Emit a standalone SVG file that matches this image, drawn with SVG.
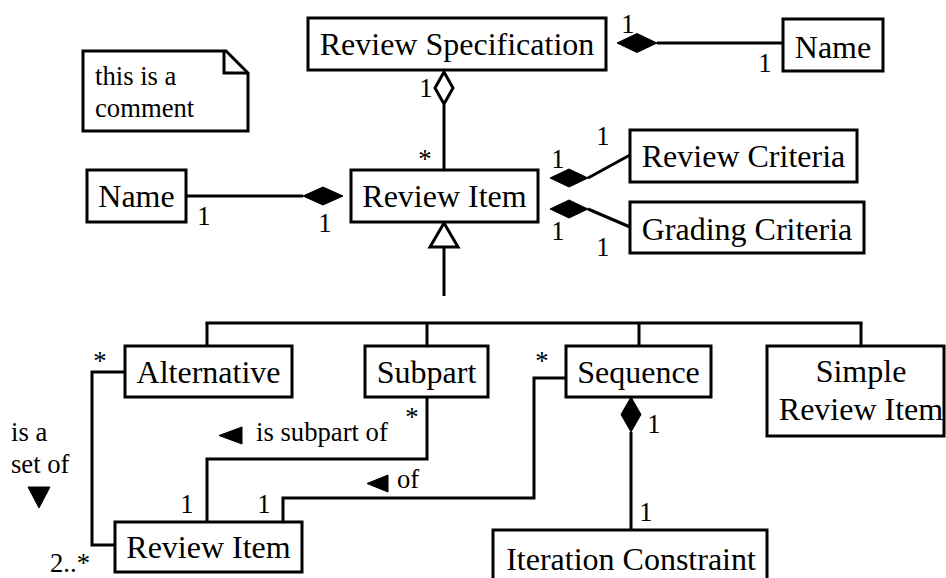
<svg xmlns="http://www.w3.org/2000/svg" width="946" height="578" viewBox="0 0 946 578">
  <style>
    .box { fill: #fff; stroke: #000; stroke-width: 3; }
    .ln { fill: none; stroke: #000; stroke-width: 3; }
    .solid { fill: #000; stroke: #000; stroke-width: 1; }
    .hollow { fill: #fff; stroke: #000; stroke-width: 3; }
    text { font-family: 'Liberation Serif', 'DejaVu Serif', serif; fill: #000; }
    .lbl { font-size: 32px; text-anchor: middle; }
    .sm { font-size: 26.67px; }
    .mid { text-anchor: middle; }
  </style>

  <rect width="946" height="578" fill="#fff"/>

  <!-- connectors -->
  <g id="connectors">
    <!-- Review Specification composed of Name -->
    <line class="ln" x1="657" y1="43" x2="783" y2="43"/>
    <polygon class="solid" points="617,43 637,33.5 657,43 637,52.5"/>
    <text class="sm mid" x="628" y="33">1</text>
    <text class="sm mid" x="765" y="72">1</text>

    <!-- Review Specification aggregates Review Items -->
    <line class="ln" x1="444" y1="105" x2="444" y2="170"/>
    <polygon class="hollow" points="444,72 453,88 444,104 435,88"/>
    <text class="sm mid" x="426" y="97">1</text>
    <text class="sm mid" x="425" y="168">*</text>

    <!-- Review Item composed of Name -->
    <line class="ln" x1="186" y1="196" x2="303" y2="196"/>
    <polygon class="solid" points="303,196 323,187 343,196 323,205"/>
    <text class="sm mid" x="204" y="225">1</text>
    <text class="sm mid" x="325" y="232">1</text>

    <!-- Review Item composed of Review Criteria -->
    <line class="ln" x1="588" y1="178" x2="630" y2="155"/>
    <polygon class="solid" points="550,178 569,169 588,178 569,187"/>
    <text class="sm mid" x="558" y="168">1</text>
    <text class="sm mid" x="603" y="145">1</text>

    <!-- Review Item composed of Grading Criteria -->
    <line class="ln" x1="588" y1="209" x2="630" y2="227"/>
    <polygon class="solid" points="550,209 569,200 588,209 569,218"/>
    <text class="sm mid" x="558" y="240">1</text>
    <text class="sm mid" x="603" y="256">1</text>

    <!-- generalization tree -->
    <polygon class="hollow" points="444,223 458,247 430,247"/>
    <line class="ln" x1="444" y1="247" x2="444" y2="296"/>
    <line class="ln" x1="205.5" y1="323" x2="862.5" y2="323"/>
    <line class="ln" x1="207" y1="323" x2="207" y2="346"/>
    <line class="ln" x1="427" y1="323" x2="427" y2="346"/>
    <line class="ln" x1="639" y1="323" x2="639" y2="346"/>
    <line class="ln" x1="861" y1="323" x2="861" y2="346"/>

    <!-- Alternative is a set of Review Items -->
    <polyline class="ln" points="125,372 92,372 92,545 115,545"/>
    <text class="sm mid" x="100" y="370">*</text>
    <text class="sm" x="50" y="572">2..*</text>
    <text class="sm" x="11" y="441">is a</text>
    <text class="sm" x="11" y="473">set of</text>
    <polygon class="solid" points="28,487 50,487 39,508"/>

    <!-- Review Item is subpart of Subpart -->
    <polyline class="ln" points="427,397 427,459 207,459 207,522"/>
    <text class="sm mid" x="412" y="426">*</text>
    <text class="sm mid" x="187" y="513">1</text>
    <polygon class="solid" points="219,435.5 242,427 242,444"/>
    <text class="sm" x="256" y="441">is subpart of</text>

    <!-- Review Item of Sequence -->
    <polyline class="ln" points="566,378 534,378 534,498 283,498 283,522"/>
    <text class="sm mid" x="542" y="370">*</text>
    <text class="sm mid" x="264" y="513">1</text>
    <polygon class="solid" points="367,483.5 388,475 388,492"/>
    <text class="sm" x="397" y="488">of</text>

    <!-- Sequence composed of Iteration Constraint -->
    <line class="ln" x1="631" y1="432" x2="631" y2="530"/>
    <polygon class="solid" points="631,397 641,414.5 631,432 621,414.5"/>
    <text class="sm mid" x="654" y="433">1</text>
    <text class="sm mid" x="646" y="521">1</text>
  </g>

  <!-- comment note -->
  <g id="note">
    <polygon class="box" points="83,51 226,51 248,73 248,131 83,131"/>
    <polyline class="ln" points="224,51 224,73 248,73"/>
    <text class="sm" x="95" y="85">this is a</text>
    <text class="sm" x="95" y="117">comment</text>
  </g>

  <g id="review-specification">
    <rect class="box" x="308" y="18" width="298" height="52"/>
    <text class="lbl" x="457" y="55">Review Specification</text>
  </g>

  <g id="spec-name">
    <rect class="box" x="783" y="19" width="100" height="52"/>
    <text class="lbl" x="833" y="58">Name</text>
  </g>

  <g id="item-name">
    <rect class="box" x="87" y="170" width="99" height="52"/>
    <text class="lbl" x="136.5" y="207">Name</text>
  </g>

  <g id="review-item">
    <rect class="box" x="351" y="170" width="187" height="52"/>
    <text class="lbl" x="444.5" y="207">Review Item</text>
  </g>

  <g id="review-criteria">
    <rect class="box" x="630" y="130" width="227" height="52"/>
    <text class="lbl" x="743.5" y="167">Review Criteria</text>
  </g>

  <g id="grading-criteria">
    <rect class="box" x="630" y="202" width="234" height="51"/>
    <text class="lbl" x="747" y="240">Grading Criteria</text>
  </g>

  <g id="alternative">
    <rect class="box" x="125" y="346" width="167" height="51"/>
    <text class="lbl" x="208.5" y="383">Alternative</text>
  </g>

  <g id="subpart">
    <rect class="box" x="365" y="346" width="123" height="51"/>
    <text class="lbl" x="426.5" y="383">Subpart</text>
  </g>

  <g id="sequence">
    <rect class="box" x="566" y="346" width="145" height="51"/>
    <text class="lbl" x="638.5" y="383">Sequence</text>
  </g>

  <g id="simple-review-item">
    <rect class="box" x="767" y="346" width="177" height="90"/>
    <text class="lbl" x="861" y="382">Simple</text>
    <text class="lbl" x="861" y="420">Review Item</text>
  </g>

  <g id="member-review-item">
    <rect class="box" x="115" y="522" width="187" height="50"/>
    <text class="lbl" x="208.5" y="558">Review Item</text>
  </g>

  <g id="iteration-constraint">
    <rect class="box" x="493" y="530" width="274" height="70"/>
    <text class="lbl" x="631" y="570">Iteration Constraint</text>
  </g>
</svg>
